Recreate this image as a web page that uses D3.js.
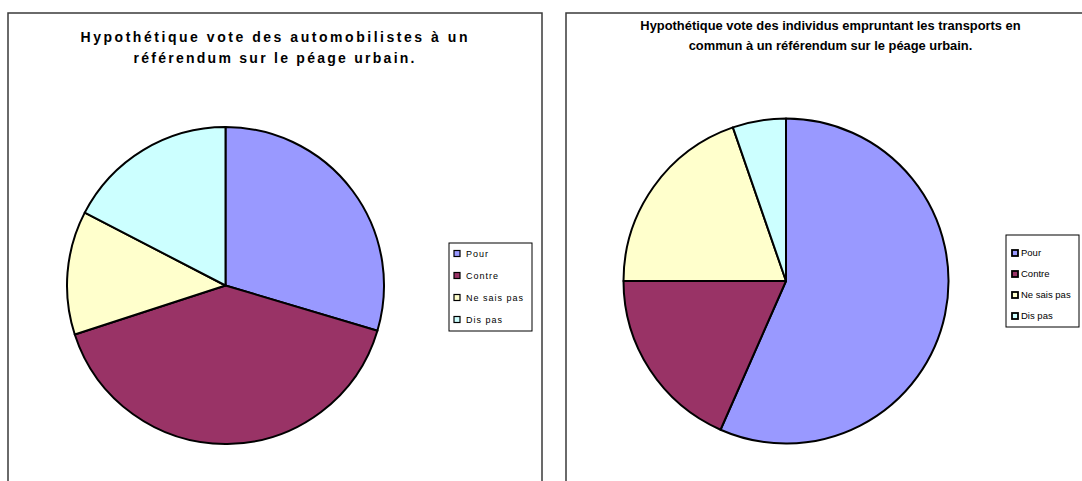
<!DOCTYPE html>
<head>
  <meta charset="utf-8">
  <title>Péage urbain</title>
  <style>
    body { margin: 0; background: #ffffff; }
    svg { display: block; }
    .titre { font-family: "Liberation Sans", Arial, sans-serif; font-weight: bold; fill: #000; }
    .leg { font-family: "Liberation Sans", Arial, sans-serif; fill: #000; }
  </style>
</head>
<body>
  <script src="https://cdn.jsdelivr.net/npm/d3@7/dist/d3.min.js"></script>
  <script>
    // categories and values (percent)
    var categories = ["Pour", "Contre", "Ne sais pas", "Dis pas"];
    var colours = ["#9999FF", "#993366", "#FFFFCC", "#CCFFFF"];
    var automobilistes = [29.6, 40.4, 12.6, 17.4];
    var transportsCommun = [56.6, 18.4, 19.7, 5.3];

    var titre1 = ["Hypothétique vote des automobilistes à un", "référendum sur le péage urbain."];
    var titre2 = ["Hypothétique vote des individus empruntant les transports en", "commun à un référendum sur le péage urbain."];

    var svg = d3.select("body").append("svg")
      .attr("width", 1082)
      .attr("height", 481);

    var pie = d3.pie().sort(null).value(function (d) { return d; });

    function drawChart(opts) {
      var g = svg.append("g");

      // panel border
      g.append("rect")
        .attr("x", opts.box[0]).attr("y", opts.box[1])
        .attr("width", opts.box[2]).attr("height", opts.box[3])
        .attr("fill", "#fff")
        .attr("stroke", "#3a3a3a")
        .attr("stroke-width", 1.5);

      // title, two lines (left one is spread out like the original)
      var t = g.selectAll(".titre")
        .data(opts.title)
        .enter().append("text")
        .attr("class", "titre")
        .attr("x", opts.titleX)
        .attr("y", function (d, i) { return opts.titleY + i * opts.titleGap; })
        .attr("text-anchor", "middle")
        .style("font-size", opts.titleSize + "px")
        .text(function (d) { return d; });
      if (opts.titleLen) {
        t.attr("textLength", function (d, i) { return opts.titleLen[i]; })
          .attr("lengthAdjust", "spacing");
      }

      // pie
      var arc = d3.arc().innerRadius(0).outerRadius(opts.r);
      g.append("g")
        .attr("transform", "translate(" + opts.cx + "," + opts.cy + ")")
        .selectAll("path")
        .data(pie(opts.values))
        .enter().append("path")
        .attr("d", arc)
        .attr("fill", function (d, i) { return colours[i]; })
        .attr("stroke", "#000")
        .attr("stroke-width", 2)
        .attr("stroke-linejoin", "round");

      // legend
      var lg = opts.legend;
      g.append("rect")
        .attr("x", lg.x).attr("y", lg.y)
        .attr("width", lg.w).attr("height", lg.h)
        .attr("fill", "#fff")
        .attr("stroke", "#000")
        .attr("stroke-width", 1);

      var item = g.selectAll(".item")
        .data(categories)
        .enter().append("g")
        .attr("transform", function (d, i) {
          return "translate(" + lg.mx + "," + (lg.first + i * lg.step) + ")";
        });

      item.append("rect")
        .attr("x", 0).attr("y", -lg.ms / 2)
        .attr("width", lg.ms).attr("height", lg.ms)
        .attr("fill", function (d, i) { return colours[i]; })
        .attr("stroke", "#000")
        .attr("stroke-width", lg.mstroke);

      item.append("text")
        .attr("class", "leg")
        .attr("x", lg.tx)
        .attr("dy", "0.35em")
        .style("font-size", lg.font + "px")
        .style("letter-spacing", lg.spacing + "px")
        .text(function (d) { return d; });
    }

    drawChart({
      box: [8, 13, 534, 480],
      title: titre1, titleX: 274, titleY: 42, titleGap: 21, titleSize: 14,
      titleLen: [387, 281],
      values: automobilistes, cx: 225.5, cy: 285.5, r: 158.5,
      legend: { x: 449, y: 243, w: 83, h: 88, mx: 454, first: 253.5, step: 22,
                ms: 6, mstroke: 1.2, tx: 12, font: 9, spacing: 1 }
    });

    drawChart({
      box: [566, 13, 540, 480],
      title: titre2, titleX: 830.5, titleY: 30, titleGap: 20, titleSize: 12.9,
      titleLen: null,
      values: transportsCommun, cx: 786, cy: 281, r: 162.5,
      legend: { x: 1006, y: 235, w: 73, h: 92, mx: 1012, first: 253, step: 21,
                ms: 6, mstroke: 1.8, tx: 9, font: 9.5, spacing: 0 }
    });
  </script>
</body>
